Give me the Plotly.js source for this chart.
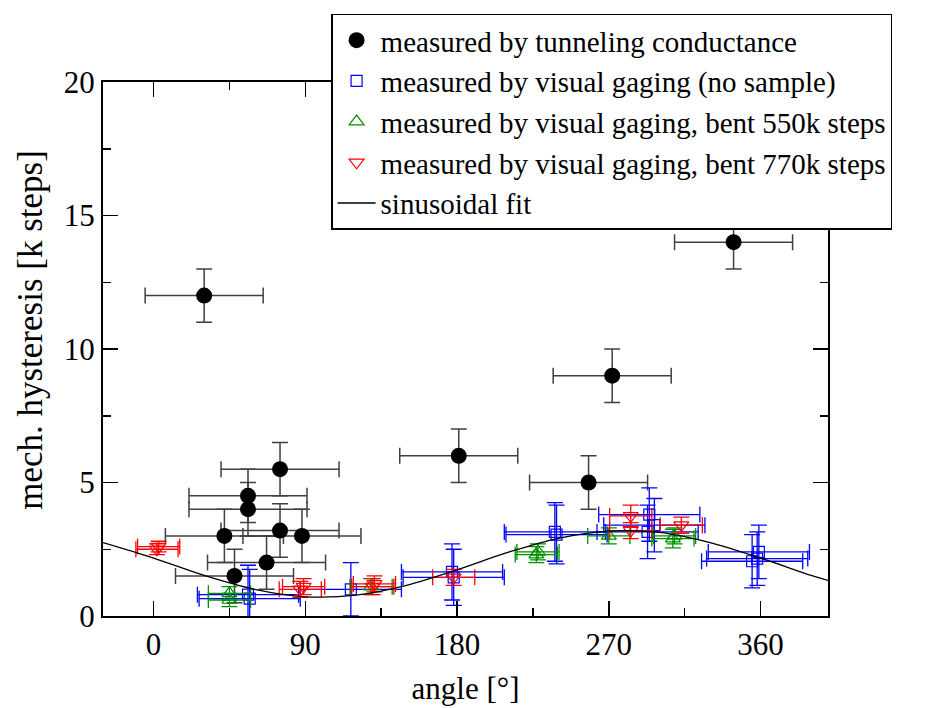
<!DOCTYPE html>
<html>
<head>
<meta charset="utf-8">
<script src="https://cdn.plot.ly/plotly-3.0.1.min.js"></script>
<style>html,body{margin:0;padding:0;background:#fff;}#chart{width:949px;height:708px;}</style>
</head>
<body>
<div id="chart"></div>
<script>
// Tunneling conductance measurements
var tunX = [30, 344, 272, 258, 181, 75, 56, 56, 42, 75, 88, 67, 48];
var tunY = [12, 14, 9, 5, 6, 5.5, 4.5, 4, 3, 3.2, 3, 2, 1.5];
var tunXErr = [35, 35, 35, 35, 35, 35, 35, 35, 35, 35, 35, 35, 35];
var tunYErr = [1, 1, 1, 1, 1, 1, 1, 1, 1, 1, 1, 1, 1];

// Visual gaging, no sample
var noX = [56, 57, 117, 177, 178, 238, 239, 294, 297, 293, 359, 355, 358];
var noY = [0.8, 0.65, 1.0, 1.65, 1.45, 3.15, 3.05, 3.8, 3.4, 3.15, 2.4, 2.05, 2.15];
var noXErr = [30, 30, 30, 30, 30, 30, 30, 30, 30, 30, 30, 30, 30];
var noYErr = [1.1, 1.1, 1.0, 1.05, 1.05, 1.1, 1.1, 1.0, 1.0, 1.0, 1.0, 1.0, 1.0];

// Visual gaging, bent 550k steps
var b550X = [45, 45, 129, 227, 228, 270, 308, 309];
var b550Y = [0.85, 0.6, 1.1, 2.3, 2.4, 3.0, 2.9, 3.0];
var b550XErr = [12.5, 12.5, 12.5, 12.5, 12.5, 12.5, 12.5, 12.5];
var b550YErr = [0.25, 0.25, 0.3, 0.3, 0.3, 0.3, 0.35, 0.3];

// Visual gaging, bent 770k steps
var b770X = [2, 3, 87, 89, 130, 131, 178, 283, 283, 313];
var b770Y = [2.5, 2.6, 1.0, 1.1, 1.1, 1.2, 1.45, 3.75, 3.2, 3.4];
var b770XErr = [12.5, 12.5, 12.5, 12.5, 12.5, 12.5, 12.5, 12.5, 12.5, 12.5];
var b770YErr = [0.2, 0.2, 0.3, 0.3, 0.3, 0.3, 0.3, 0.4, 0.3, 0.3];

// Sinusoidal fit
var fitX = [-30, 0, 30, 60, 90, 120, 150, 180, 210, 240, 270, 300, 330, 360, 390, 400];
var fitY = [2.75, 2.17, 1.52, 1.0, 0.72, 0.78, 1.15, 1.73, 2.38, 2.91, 3.18, 3.13, 2.75, 2.17, 1.52, 1.33];

var xTicks = [0, 90, 180, 270, 360];
var yTicks = [0, 5, 10, 15, 20];

var FONT = '"Liberation Serif", "Times New Roman", serif';

function errs(arr, color, th) {
  return {type: 'data', array: arr, visible: true, color: color, thickness: th, width: 8};
}

var traces = [
  {
    x: tunX, y: tunY, type: 'scatter', mode: 'markers',
    name: 'measured by tunneling conductance',
    marker: {symbol: 'circle', size: 16, color: '#000'},
    error_x: errs(tunXErr, '#404040', 1.5),
    error_y: errs(tunYErr, '#404040', 1.5)
  },
  {
    x: noX, y: noY, type: 'scatter', mode: 'markers',
    name: 'measured by visual gaging (no sample)',
    marker: {symbol: 'square-open', size: 11, color: '#0000ff', line: {width: 1.2}},
    error_x: errs(noXErr, '#0000ff', 1.3),
    error_y: errs(noYErr, '#0000ff', 1.3)
  },
  {
    x: b550X, y: b550Y, type: 'scatter', mode: 'markers',
    name: 'measured by visual gaging, bent 550k steps',
    marker: {symbol: 'triangle-up-open', size: 13, color: '#009000', line: {width: 1.2}},
    error_x: errs(b550XErr, '#009000', 1.3),
    error_y: errs(b550YErr, '#009000', 1.3)
  },
  {
    x: b770X, y: b770Y, type: 'scatter', mode: 'markers',
    name: 'measured by visual gaging, bent 770k steps',
    marker: {symbol: 'triangle-down-open', size: 13, color: '#ff0000', line: {width: 1.2}},
    error_x: errs(b770XErr, '#ff0000', 1.3),
    error_y: errs(b770YErr, '#ff0000', 1.3)
  },
  {
    x: fitX, y: fitY, type: 'scatter', mode: 'lines',
    name: 'sinusoidal fit',
    line: {color: '#000', width: 1.3, shape: 'spline', smoothing: 1.0}
  }
];

var layout = {
  width: 949, height: 708,
  margin: {l: 103, r: 121, t: 82, b: 92},
  paper_bgcolor: '#fff', plot_bgcolor: '#fff',
  font: {family: FONT, size: 31, color: '#000'},
  showlegend: true,
  legend: {
    x: 0.315, xanchor: 'left', y: 1.128, yanchor: 'top',
    bgcolor: '#fff', bordercolor: '#000', borderwidth: 1.2,
    font: {family: FONT, size: 29, color: '#000'},
    tracegroupgap: 0, itemsizing: 'trace', itemwidth: 38
  },
  xaxis: {
    range: [-30, 400], showgrid: false, zeroline: false,
    showline: true, linecolor: '#000', linewidth: 2, mirror: 'allticks',
    ticks: 'inside', ticklen: 15, tickwidth: 1.5, tickcolor: '#000',
    tickmode: 'array', tickvals: xTicks, ticktext: xTicks.map(String),
    tickfont: {family: FONT, size: 31},
    minor: {ticks: 'inside', ticklen: 8, tickwidth: 1.5, tickcolor: '#000', dtick: 45, tick0: 0, showgrid: false},
    title: {text: 'angle [°]', font: {family: FONT, size: 31}, standoff: 16}
  },
  yaxis: {
    range: [0, 20], showgrid: false, zeroline: false,
    showline: true, linecolor: '#000', linewidth: 2, mirror: 'allticks',
    ticks: 'inside', ticklen: 15, tickwidth: 1.5, tickcolor: '#000',
    tickmode: 'array', tickvals: yTicks, ticktext: yTicks.map(String),
    tickfont: {family: FONT, size: 31},
    minor: {ticks: 'inside', ticklen: 8, tickwidth: 1.5, tickcolor: '#000', dtick: 2.5, tick0: 0, showgrid: false}
  },
  annotations: [{
    text: 'mech. hysteresis [k steps]', textangle: -90, showarrow: false,
    xref: 'paper', yref: 'paper', x: -0.1, y: 0.535,
    xanchor: 'center', yanchor: 'middle',
    font: {family: FONT, size: 35, color: '#000'}
  }]
};

Plotly.newPlot('chart', traces, layout, {displayModeBar: false, staticPlot: true});
</script>
</body>
</html>
